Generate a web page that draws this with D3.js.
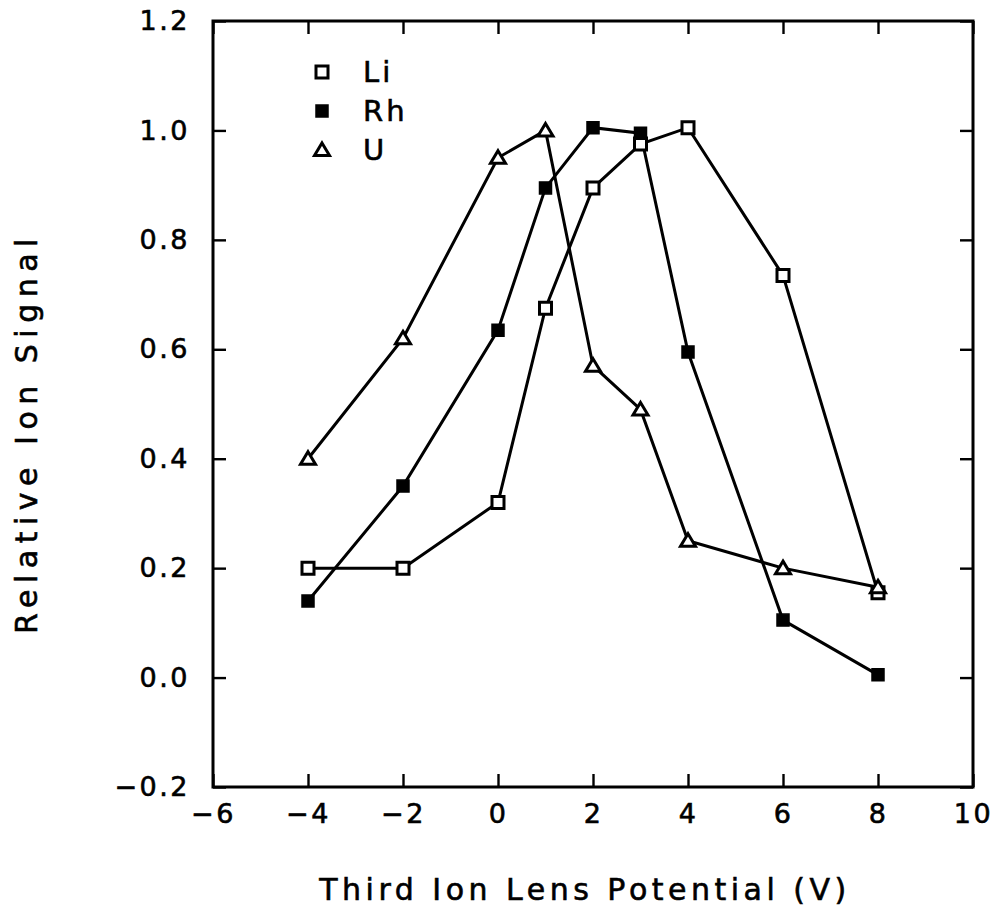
<!DOCTYPE html>
<html>
<head>
<meta charset="utf-8">
<script src="https://cdn.jsdelivr.net/npm/d3@7"></script>
<style>
  html, body { margin: 0; padding: 0; background: #fff; }
  svg { display: block; }
  text { font-family: "DejaVu Sans", "Liberation Sans", sans-serif; fill: #000; stroke: #000; stroke-width: 0.6px; }
</style>
</head>
<body>
<svg id="chart" width="997" height="914"></svg>
<script>
// Lens potential settings (V)
const potentials = [-4, -2, 0, 1, 2, 3, 4, 6, 8];
// Relative ion signal per element
const liSignal = [0.20, 0.20, 0.32, 0.675, 0.895, 0.975, 1.005, 0.735, 0.155];
const rhSignal = [0.14, 0.35, 0.635, 0.895, 1.005, 0.995, 0.595, 0.105, 0.005];
const uSignal  = [0.40, 0.62, 0.95, 1.00, 0.57, 0.49, 0.25, 0.20, 0.165];
const seriesNames = ["Li", "Rh", "U"];
const xTicks = [-6, -4, -2, 0, 2, 4, 6, 8, 10];
const yTicks = [-0.2, 0.0, 0.2, 0.4, 0.6, 0.8, 1.0, 1.2];

const svg = d3.select("#chart");
const plot = { left: 213, right: 973, top: 21, bottom: 787 };

const x = d3.scaleLinear().domain([-6, 10]).range([plot.left, plot.right]);
const y = d3.scaleLinear().domain([-0.2, 1.2]).range([plot.bottom, plot.top]);

const tickLen = 13;

// Axes: ticks point inward on all four sides, labels on bottom and left
const gx = svg.append("g")
  .attr("transform", `translate(0,${plot.bottom})`)
  .call(d3.axisBottom(x).tickValues(xTicks).tickSize(-tickLen).tickPadding(17)
    .tickFormat(d3.format("d")));
const gy = svg.append("g")
  .attr("transform", `translate(${plot.left},0)`)
  .call(d3.axisLeft(y).tickValues(yTicks).tickSize(-tickLen).tickPadding(23)
    .tickFormat(d3.format(".1f")));
const gxTop = svg.append("g")
  .attr("transform", `translate(0,${plot.top})`)
  .call(d3.axisTop(x).tickValues(xTicks).tickSize(-tickLen).tickFormat(""));
const gyRight = svg.append("g")
  .attr("transform", `translate(${plot.right},0)`)
  .call(d3.axisRight(y).tickValues(yTicks).tickSize(-tickLen).tickFormat(""));

[gx, gy, gxTop, gyRight].forEach(g => {
  g.attr("font-size", null).attr("font-family", null);
  g.select(".domain").remove();
  g.selectAll(".tick line").attr("stroke", "#000").attr("stroke-width", 2.4);
  g.selectAll(".tick text")
    .attr("font-size", 27)
    .attr("letter-spacing", 2.5)
    .attr("fill", "#000");
});

// Plot frame
svg.append("rect")
  .attr("x", plot.left).attr("y", plot.top)
  .attr("width", plot.right - plot.left).attr("height", plot.bottom - plot.top)
  .attr("fill", "none").attr("stroke", "#000").attr("stroke-width", 3);

// Axis titles
svg.append("text")
  .attr("x", (plot.left + plot.right) / 2 - 8)
  .attr("y", 900)
  .attr("text-anchor", "middle")
  .attr("font-size", 30)
  .attr("letter-spacing", 4.5)
  .text("Third Ion Lens Potential (V)");

svg.append("text")
  .attr("transform", "translate(37,433) rotate(-90)")
  .attr("text-anchor", "middle")
  .attr("font-size", 30)
  .attr("letter-spacing", 6.5)
  .text("Relative Ion Signal");

// Series
const series = [
  { name: seriesNames[0], values: liSignal, shape: "square", filled: false },
  { name: seriesNames[1], values: rhSignal, shape: "square", filled: true },
  { name: seriesNames[2], values: uSignal,  shape: "triangle", filled: false }
];

const line = d3.line().x(d => x(d[0])).y(d => y(d[1]));

function symbolPath(shape) {
  if (shape === "square") return "M-6,-6H6V6H-6Z";
  return "M0,-7L7.5,5.5L-7.5,5.5Z";
}

function drawMarker(g, s) {
  g.append("path")
    .attr("d", symbolPath(s.shape))
    .attr("fill", s.filled ? "#000" : "#fff")
    .attr("stroke", "#000")
    .attr("stroke-width", s.filled ? 1.5 : 3)
    .attr("stroke-linejoin", "miter");
}

const dataLayer = svg.append("g");
series.forEach(s => {
  const pts = potentials.map((p, i) => [p, s.values[i]]);
  dataLayer.append("path")
    .datum(pts)
    .attr("d", line)
    .attr("fill", "none")
    .attr("stroke", "#000")
    .attr("stroke-width", 3);
});
series.forEach(s => {
  potentials.forEach((p, i) => {
    const g = dataLayer.append("g")
      .attr("transform", `translate(${x(p)},${y(s.values[i])})`);
    drawMarker(g, s);
  });
});

// Legend
const legend = svg.append("g");
series.forEach((s, i) => {
  const row = legend.append("g").attr("transform", `translate(322,${72 + i * 39})`);
  drawMarker(row, s);
  row.append("text")
    .attr("x", 41)
    .attr("y", 0)
    .attr("dy", "0.36em")
    .attr("font-size", 29)
    .attr("letter-spacing", 3)
    .text(s.name);
});
</script>
</body>
</html>
